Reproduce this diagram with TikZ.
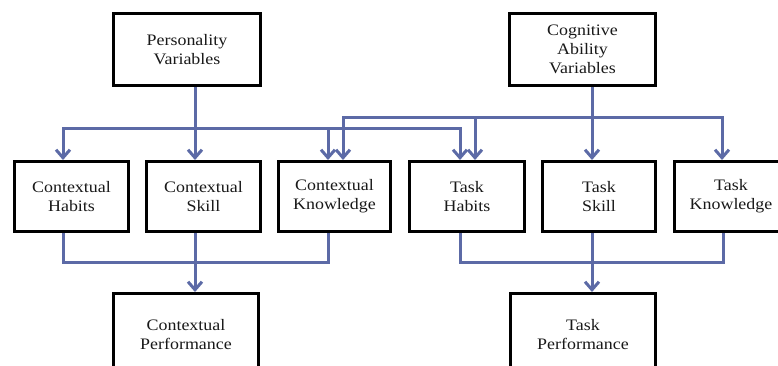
\documentclass[tikz,border=0pt]{standalone}
\usepackage{fontspec}
\setmainfont{Liberation Serif}[FakeStretch=1.12]
\usetikzlibrary{arrows.meta}
\definecolor{linkblue}{RGB}{92,106,166}
\tikzset{
  box/.style={draw=black, line width=3pt, fill=white, align=center, inner sep=0pt,
    text=black!90, font=\fontsize{16}{19}\selectfont, minimum height=70pt},
  link/.style={draw=linkblue, line width=3pt},
  tip/.style={link, -{Straight Barb[length=8pt,width=14pt]}}
}
\begin{document}
\begin{tikzpicture}[x=1pt,y=-1pt]
	\useasboundingbox (0,0) rectangle (778,365);
	% top row
	\node[box, minimum width=147pt, minimum height=72pt] (pers) at (187,49.5) {Personality\\Variables};
	\node[box, minimum width=146pt, minimum height=72pt] (cogn) at (582.5,49.5) {Cognitive\\Ability\\Variables};
	% middle row
	\node[box, minimum width=114pt] (ctxhab) at (71.5,196.5) {Contextual\\Habits};
	\node[box, minimum width=114pt] (ctxskl) at (203.5,196.5) {Contextual\\Skill};
	\node[box, minimum width=112pt] (ctxknw) at (334.5,196.5) {Contextual\\Knowledge};
	\node[box, minimum width=115pt] (tskhab) at (467,196.5) {Task\\Habits};
	\node[box, minimum width=113pt] (tskskl) at (599,196.5) {Task\\Skill};
	\node[box, minimum width=113pt] (tskknw) at (731,196.5) {Task\\Knowledge};
	% bottom row
	\node[box, minimum width=145pt, minimum height=83pt] (ctxprf) at (186,335) {Contextual\\Performance};
	\node[box, minimum width=145pt, minimum height=83pt] (tskprf) at (583,335) {Task\\Performance};
	% personality links
	\coordinate (pbus) at ([xshift=8pt]pers.south |- 0,128);
	\draw[tip] ([xshift=8pt]pers.south) -- ([xshift=8pt]pers.south |- ctxskl.north);
	\draw[tip] (pbus) -| ([xshift=-8.5pt]ctxhab.north);
	\draw[tip] (pbus) -| ([xshift=-6.5pt]ctxknw.north);
	\draw[tip] (pbus) -| ([xshift=-7pt]tskhab.north);
	% cognitive links
	\coordinate (cbus) at ([xshift=9.5pt]cogn.south |- 0,117);
	\draw[tip] ([xshift=9.5pt]cogn.south) -- ([xshift=9.5pt]cogn.south |- tskskl.north);
	\draw[tip] (cbus) -| ([xshift=8.5pt]ctxknw.north);
	\draw[tip] (cbus) -| ([xshift=8pt]tskhab.north);
	\draw[tip] (cbus) -| ([xshift=-9pt]tskknw.north);
	% performance links
	\draw[link] ([xshift=-8.5pt]ctxhab.south) -- ++(0,29) -| ([xshift=-6.5pt]ctxknw.south);
	\draw[link] ([xshift=-8.5pt]ctxskl.south) -- ++(0,29);
	\draw[tip] ([xshift=9pt]ctxprf.north |- 0,262) -- ([xshift=9pt]ctxprf.north);
	\draw[link] ([xshift=-7pt]tskhab.south) -- ++(0,29) -| ([xshift=-8pt]tskknw.south);
	\draw[link] ([xshift=-7pt]tskskl.south) -- ++(0,29);
	\draw[tip] ([xshift=9pt]tskprf.north |- 0,262) -- ([xshift=9pt]tskprf.north);
\end{tikzpicture}
\end{document}
